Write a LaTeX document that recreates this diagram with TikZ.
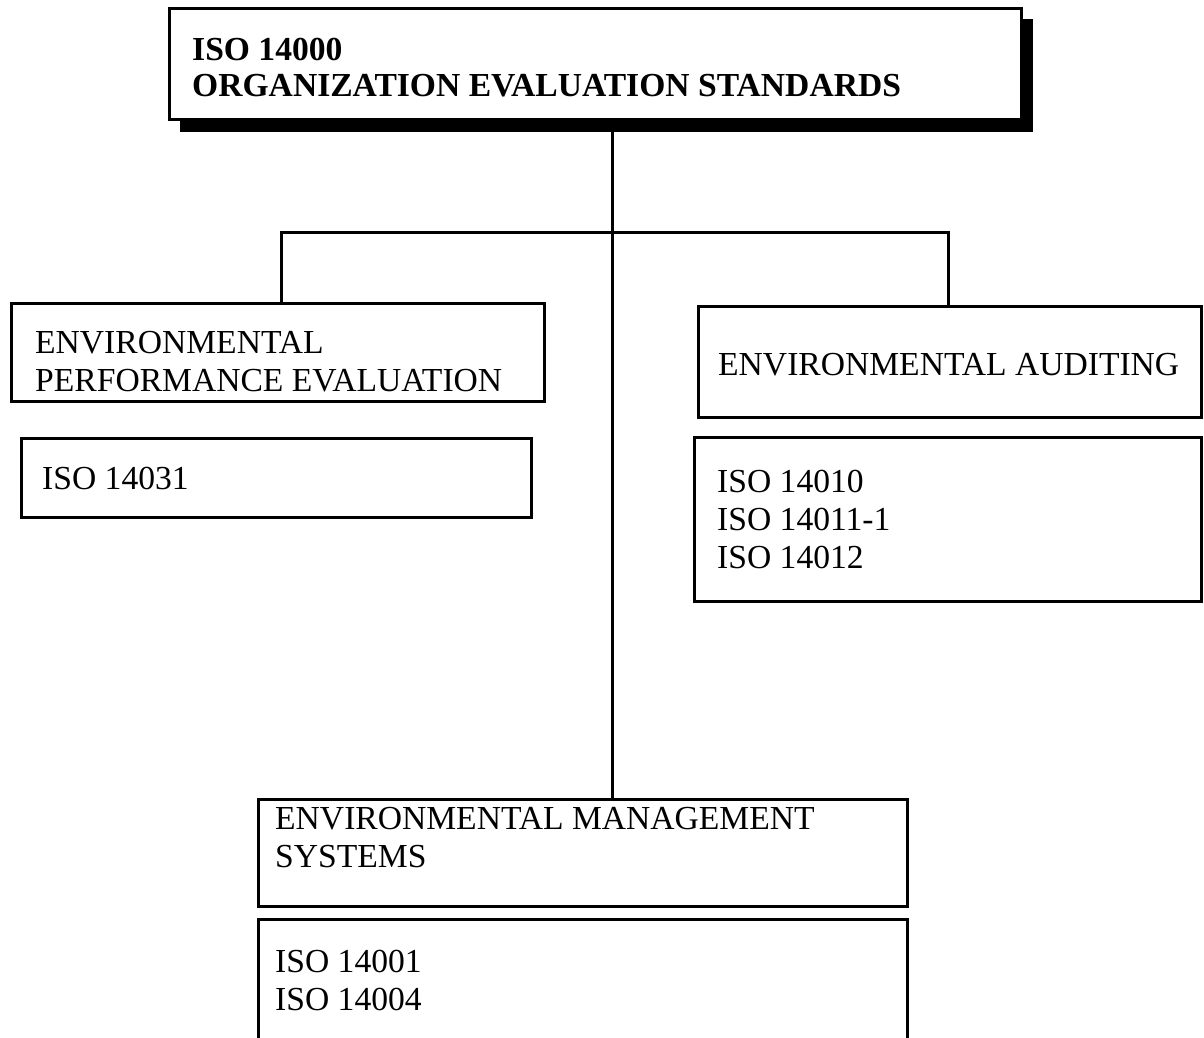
\documentclass[tikz,border=0pt]{standalone}
\usepackage{fontspec}
\setmainfont{Liberation Serif}
\begin{document}
\begin{tikzpicture}[x=1pt,y=-1pt,
  box/.style={draw=black, line width=3pt, fill=white, rectangle, anchor=north west, inner sep=0pt},
  txt/.style={anchor=base west, inner sep=0pt, align=left, font=\fontsize{33.6}{37.8}\selectfont},
  btxt/.style={txt, font=\fontsize{33.6}{35.5}\selectfont\bfseries},
  conn/.style={line width=3pt, line cap=rect}]
\useasboundingbox (0,0) rectangle (1204,1037);
\clip (0,0) rectangle (1204,1037);
% top box with shadow
\fill[black] (180,19) rectangle (1033,132);
\node[box, minimum width=852pt, minimum height=111pt] (top) at (168,7) {};
\node[btxt] (toptxt) at (192,96) {ISO 14000\\ORGANIZATION EVALUATION STANDARDS};
% left
\node[box, minimum width=533pt, minimum height=98pt] (epe) at (10,302) {};
\node[txt] (epetxt) at (35,391) {ENVIRONMENTAL\\PERFORMANCE EVALUATION};
\node[box, minimum width=510pt, minimum height=79pt] (epeiso) at (20,437) {};
\node[txt] (epeisotxt) at (42,489) {ISO 14031};
% right
\node[box, minimum width=503pt, minimum height=111pt] (ea) at (697,305) {};
\node[txt] (eatxt) at (718,375) {ENVIRONMENTAL AUDITING};
\node[box, minimum width=507pt, minimum height=164pt] (eaiso) at (693,436) {};
\node[txt] (eaisotxt) at (717,568) {ISO 14010\\ISO 14011-1\\ISO 14012};
% bottom
\node[box, minimum width=649pt, minimum height=107pt] (ems) at (257,798) {};
\node[txt] (emstxt) at (275,867) {ENVIRONMENTAL MANAGEMENT\\SYSTEMS};
\node[box, minimum width=649pt, minimum height=140pt] (emsiso) at (257,918) {};
\node[txt] (emsisotxt) at (275,1010) {ISO 14001\\ISO 14004};
% connectors
\coordinate (t1) at (612,132);
\coordinate (jl) at (281,232);
\coordinate (jr) at (948,232);
\draw[conn] (t1) -- (t1 |- ems.north);
\draw[conn] (jl) -- (jr);
\draw[conn] (jl) -- (jl |- epe.north);
\draw[conn] (jr) -- (jr |- ea.north);
\end{tikzpicture}
\end{document}
